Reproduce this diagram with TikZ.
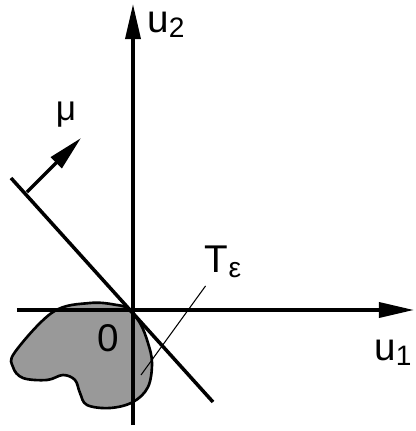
\documentclass[tikz,border=0pt]{standalone}
\usepackage{fontspec}
\setmainfont{Liberation Sans}
\usetikzlibrary{arrows.meta}

\newcommand{\lowsub}[1]{\raisebox{-3pt}{\fontsize{16}{18}\selectfont #1}}

\begin{document}
\begin{tikzpicture}[
  axis/.style={line width=2pt, -{Triangle[length=0.7cm, width=0.3cm]}},
  lbl/.style={font=\fontsize{22}{24}\selectfont, inner sep=0pt},
  blob/.style={line width=1.5pt, fill=black!40},
  leader/.style={line width=0.6pt}
]
\useasboundingbox (-2.66,-2.42) rectangle (5.64,6.2);

% the set, under the axes
\draw[blob] plot[smooth cycle, tension=0.6] coordinates {
  (-2.36,-0.84) (-1.6,-0.04) (-0.86,0.14) (-0.32,0.1) (-0.1,0.02)
  (0.14,-0.26) (0.3,-0.66) (0.38,-1.06) (0.3,-1.54) (0,-1.84)
  (-0.46,-1.96) (-0.92,-1.9) (-1.06,-1.66) (-1.16,-1.4) (-1.4,-1.3)
  (-1.72,-1.4) (-2.2,-1.36) (-2.4,-1.14)};

% axes
\coordinate (o) at (0,0);
\coordinate (x0) at (-2.32,0);
\coordinate (x1) at (5.62,0);
\coordinate (y0) at (0,-2.3);
\coordinate (y1) at (0,6.12);
\draw[axis] (x0) -- (x1);
\draw[axis] (y0) -- (y1);

% supporting line and its normal
\coordinate (l0) at (-2.44,2.64);
\coordinate (l1) at (1.6,-1.84);
\draw[line width=2pt] (l0) -- (l1);
\coordinate (foot) at (-2.12,2.36);
\coordinate (tip) at (-1.04,3.44);
\draw[axis] (foot) -- (tip);

% labels
\node[lbl] (u2) at (0.66,5.7) {u\lowsub{2}};
\node[lbl] (u1) at (5.2,-0.86) {u\lowsub{1}};
\node[lbl, font=\fontsize{20}{22}\selectfont] (mu) at (-1.34,3.9) {μ};
\node[lbl] (teps) at (1.8,0.96) {T\lowsub{ε}};
\node[lbl] (zero) at (-0.5,-0.56) {0};

\coordinate (lead) at (0.16,-1.3);
\draw[leader] (teps.south west) ++(0.02,-0.15) coordinate (ts) -- (lead);
\end{tikzpicture}
\end{document}
